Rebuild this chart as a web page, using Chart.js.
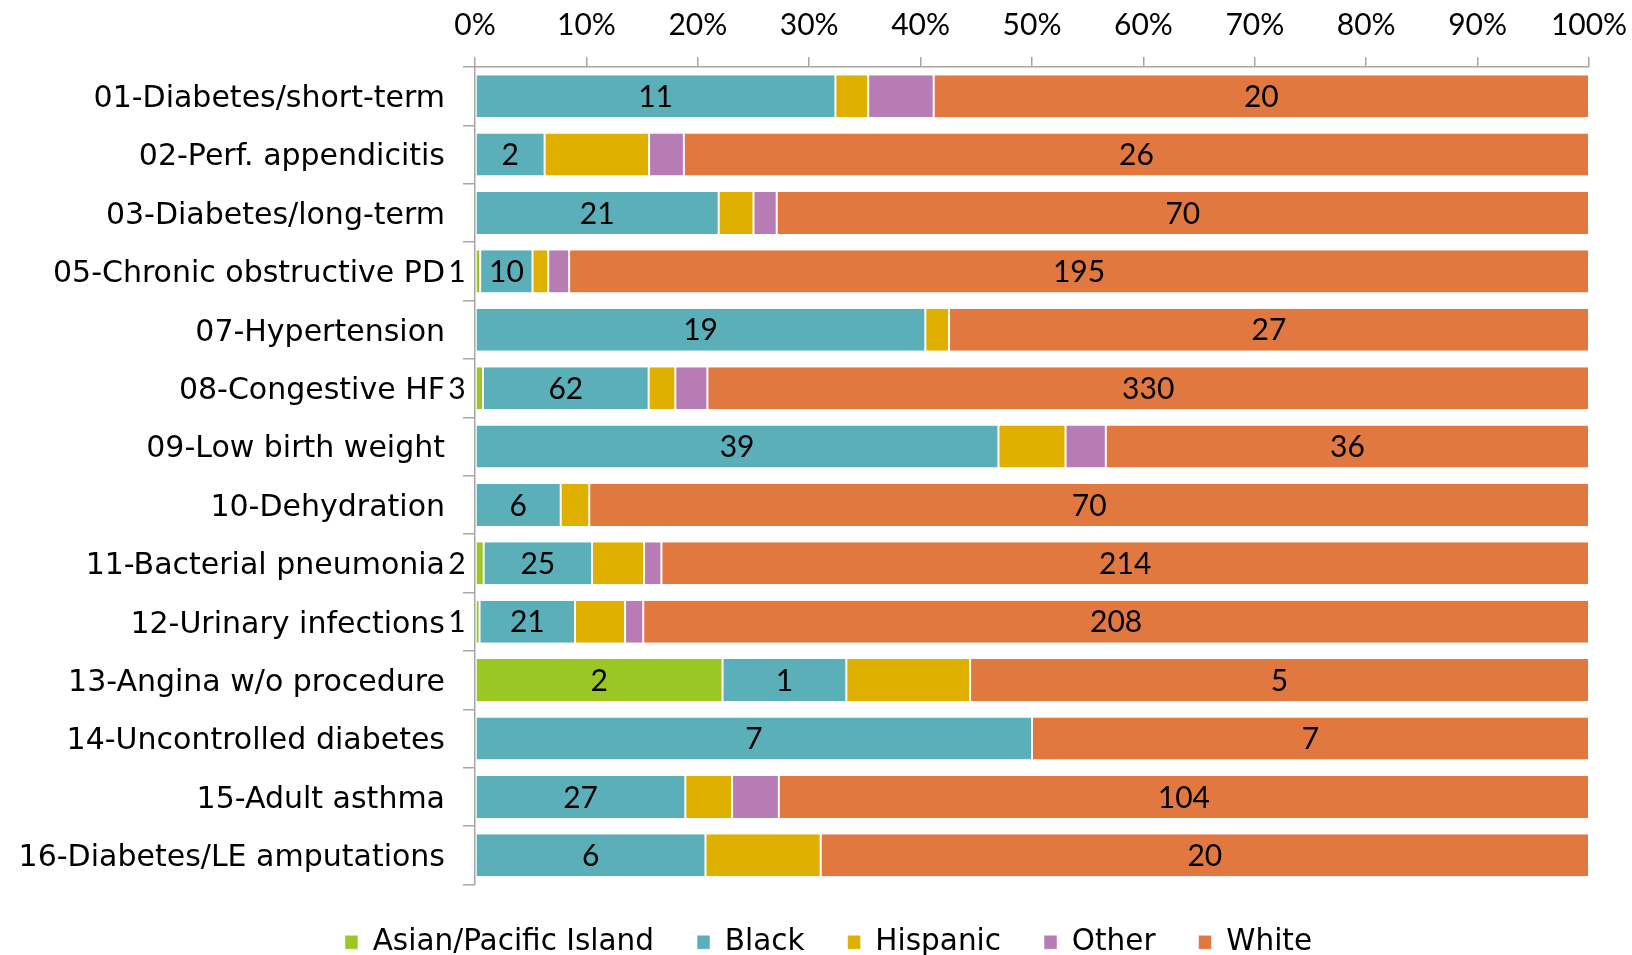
<!DOCTYPE html>
<html>
<head>
<meta charset="utf-8">
<script src="https://cdn.jsdelivr.net/npm/chart.js@4/dist/chart.umd.min.js"></script>
<style>
html,body{margin:0;padding:0;background:#fff;}
#wrap{width:1632px;height:955px;position:relative;}
</style>
</head>
<body>
<div id="wrap"><canvas id="c" width="1632" height="955"></canvas></div>
<script>
const categories = ['01-Diabetes/short-term','02-Perf. appendicitis','03-Diabetes/long-term','05-Chronic obstructive PD','07-Hypertension','08-Congestive HF','09-Low birth weight','10-Dehydration','11-Bacterial pneumonia','12-Urinary infections','13-Angina w/o procedure','14-Uncontrolled diabetes','15-Adult asthma','16-Diabetes/LE amputations'];
const asian    = [0,0,0,1,0,3,0,0,2,1,2,0,0,0];
const black    = [11,2,21,10,19,62,39,6,25,21,1,7,27,6];
const hispanic = [1,3,3,3,1,10,5,2,12,11,1,0,6,3];
const other    = [2,1,2,4,0,12,3,0,4,4,0,0,6,0];
const white    = [20,26,70,195,27,330,36,70,214,208,5,7,104,20];
const tickValues = [0,10,20,30,40,50,60,70,80,90,100];

const NUM_FONT = 'Lato';
const TXT_FONT = '"DejaVu Sans"';
const totals = categories.map((_, i) => asian[i] + black[i] + hispanic[i] + other[i] + white[i]);
const pct = arr => arr.map((v, i) => v / totals[i] * 100);

const series = [
  {label: 'Asian/Pacific Island', counts: asian, color: '#9BC724', show: true},
  {label: 'Black', counts: black, color: '#5BAFB9', show: true},
  {label: 'Hispanic', counts: hispanic, color: '#DFB000', show: false},
  {label: 'Other', counts: other, color: '#B77CB4', show: false},
  {label: 'White', counts: white, color: '#E0783F', show: true}
];

const segLabels = {
  id: 'segLabels',
  afterDatasetsDraw(chart) {
    const ctx = chart.ctx;
    ctx.save();
    ctx.font = '30px ' + NUM_FONT;
    ctx.fillStyle = '#000';
    ctx.textAlign = 'center';
    ctx.textBaseline = 'middle';
    chart.data.datasets.forEach((ds, di) => {
      if (!ds.showValues) return;
      const meta = chart.getDatasetMeta(di);
      meta.data.forEach((bar, i) => {
        const v = ds.counts[i];
        if (!v) return;
        const t = String(v);
        const w = ctx.measureText(t).width;
        const segW = Math.abs(bar.x - bar.base);
        let cx = (bar.x + bar.base) / 2;
        if (segW < w) cx = chart.chartArea.left - 18;
        ctx.fillText(t, cx, bar.y + 1);
      });
    });
    ctx.restore();
  }
};

// legend centred slightly right of the canvas centre, as in the reference
const legendShift = {
  id: 'legendShift',
  afterLayout(chart) {
    if (chart.legend) { chart.legend.left += 34; chart.legend.right += 34; }
  }
};

new Chart(document.getElementById('c'), {
  type: 'bar',
  data: {
    labels: categories,
    datasets: series.map(s => ({
      label: s.label,
      data: pct(s.counts),
      counts: s.counts,
      showValues: s.show,
      backgroundColor: s.color,
      borderColor: '#ffffff',
      borderWidth: {left: 1, right: 1, top: 0, bottom: 0},
      borderSkipped: false,
      barPercentage: 1,
      categoryPercentage: 0.72
    }))
  },
  options: {
    indexAxis: 'y',
    responsive: false,
    animation: false,
    layout: {padding: {left: 0, right: 43, top: 0, bottom: -12}},
    scales: {
      x: {
        position: 'top',
        stacked: true,
        min: 0, max: 100,
        afterBuildTicks: s => { s.ticks = tickValues.map(v => ({value: v})); },
        afterFit: s => { s.height = 67; s.paddingLeft = 0; s.paddingRight = 0; },
        ticks: {
          callback: v => v + '%',
          color: '#000',
          font: {family: NUM_FONT, size: 30},
          padding: 14,
          maxRotation: 0
        },
        grid: {drawOnChartArea: false, tickLength: 10, color: '#a6a6a6', lineWidth: 1.5},
        border: {color: '#a6a6a6', width: 1.5}
      },
      y: {
        stacked: true,
        afterFit: s => { s.width = 475; s.paddingTop = 0; s.paddingBottom = 0; },
        ticks: {
          color: '#000',
          font: {family: TXT_FONT, size: 30},
          padding: 18,
          labelOffset: 3
        },
        grid: {drawOnChartArea: false, tickLength: 12, color: '#a6a6a6', lineWidth: 1.5, offset: true},
        border: {color: '#a6a6a6', width: 1.5}
      }
    },
    plugins: {
      legend: {
        position: 'bottom',
        labels: {
          color: '#000',
          font: {family: TXT_FONT, size: 29.5},
          boxWidth: 13,
          boxHeight: 14,
          padding: 43
        }
      },
      tooltip: {enabled: false}
    }
  },
  plugins: [segLabels, legendShift]
});
</script>
</body>
</html>
